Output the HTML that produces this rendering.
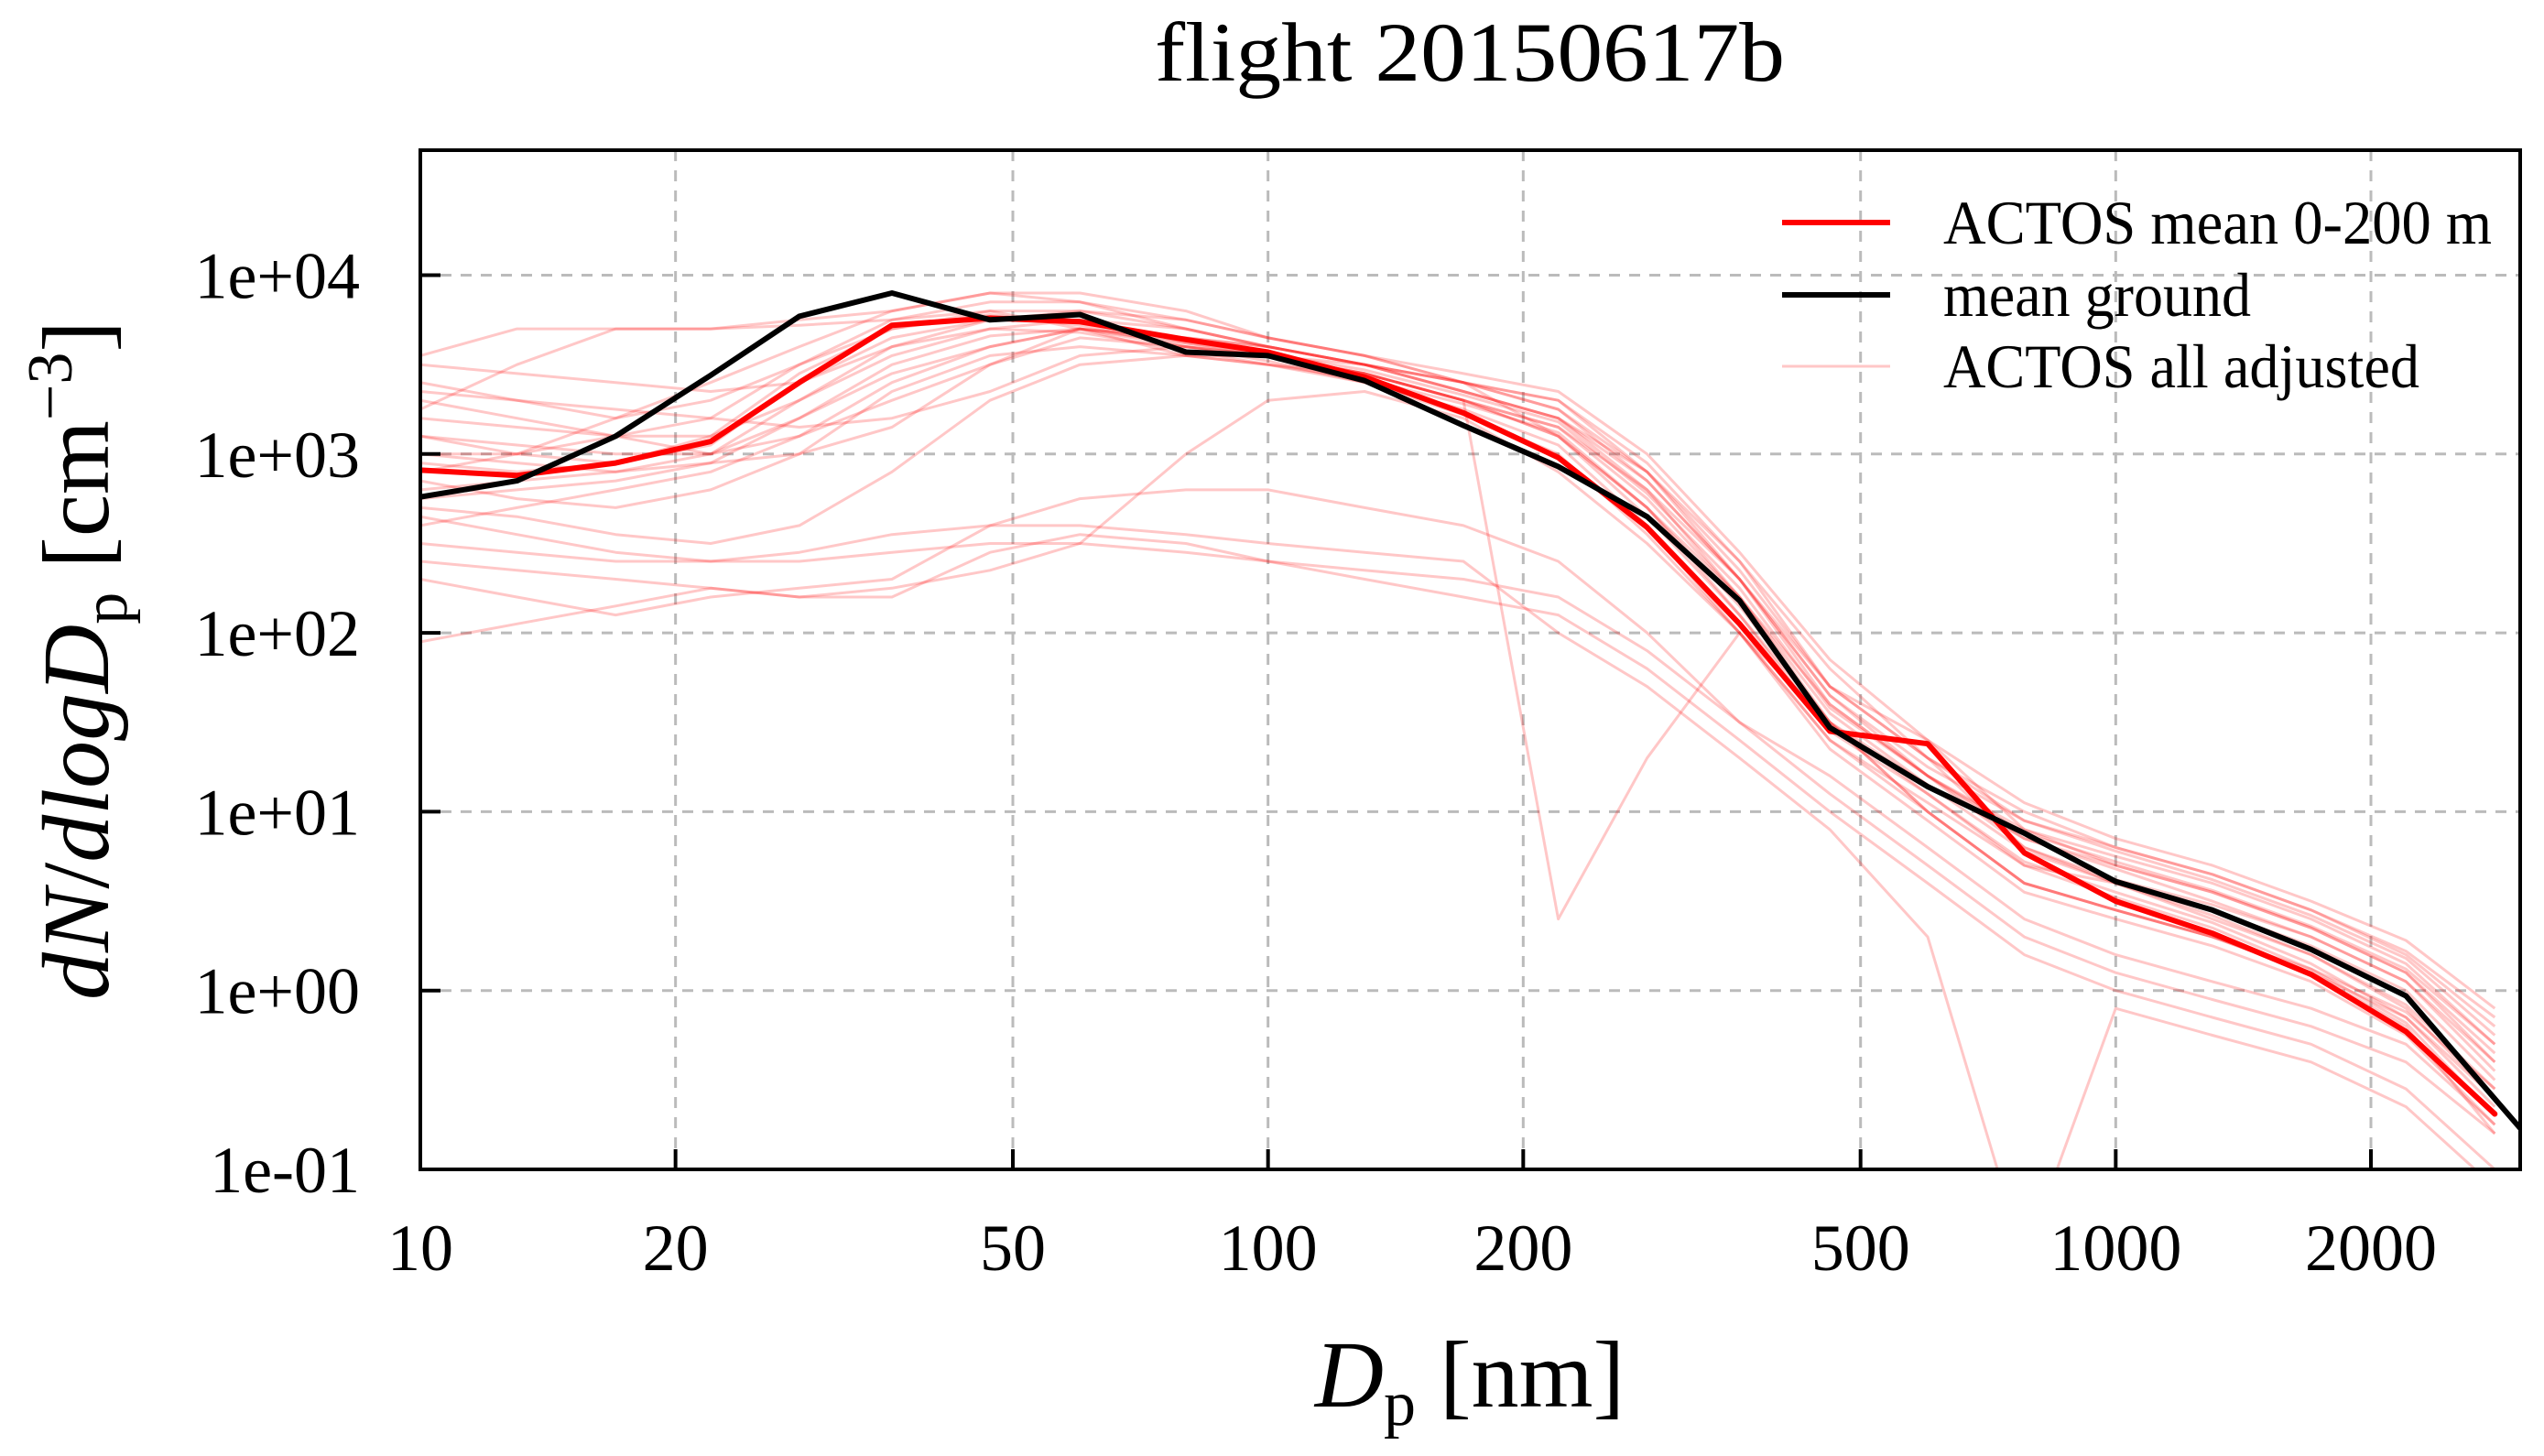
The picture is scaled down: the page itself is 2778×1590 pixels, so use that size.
<!DOCTYPE html>
<html><head><meta charset="utf-8"><style>
html,body{margin:0;padding:0;background:#fff;}
svg{display:block;font-family:"Liberation Serif",serif;}
</style></head><body>
<svg id="chart" width="2778" height="1590" viewBox="0 0 2778 1590" xmlns="http://www.w3.org/2000/svg">
<text x="1605" y="88" text-anchor="middle" font-size="92" textLength="688" lengthAdjust="spacingAndGlyphs">flight 20150617b</text>
<g id="grid"></g>
<g id="series"></g>
<rect x="459" y="164" width="2293" height="1113" fill="none" stroke="#000" stroke-width="4"/>
<g id="ticks"></g>
<text x="1605" y="1536" text-anchor="middle" font-size="104"><tspan font-style="italic">D</tspan><tspan font-size="70" dy="20">p</tspan><tspan dy="-20"> [nm]</tspan></text>
<text transform="translate(118,721) rotate(-90)" text-anchor="middle" font-size="104"><tspan font-style="italic">dN</tspan>/<tspan font-style="italic">dlogD</tspan><tspan font-size="70" dy="20">p</tspan><tspan dy="-20"> [cm</tspan><tspan font-size="70" dy="-40">−3</tspan><tspan dy="40">]</tspan></text>
<g>
<line x1="1946" y1="243" x2="2064" y2="243" stroke="#f00" stroke-width="6"/>
<text x="2122" y="266" font-size="68" textLength="599" lengthAdjust="spacingAndGlyphs">ACTOS mean 0-200 m</text>
<line x1="1946" y1="322" x2="2064" y2="322" stroke="#000" stroke-width="6"/>
<text x="2122" y="345" font-size="68" textLength="336" lengthAdjust="spacingAndGlyphs">mean ground</text>
<line x1="1946" y1="400" x2="2064" y2="400" stroke="rgba(255,0,0,0.22)" stroke-width="3"/>
<text x="2122" y="423" font-size="68" textLength="520" lengthAdjust="spacingAndGlyphs">ACTOS all adjusted</text>
</g>
</svg>
<script>
const diameters=[10,13,17,22,28,36,47,60,80,100,130,170,220,280,360,460,600,780,1000,1300,1700,2200,2800];
const meanActos=[2.91,2.88,2.95,3.07,3.40,3.72,3.76,3.74,3.64,3.57,3.43,3.23,2.98,2.59,2.05,1.45,1.38,0.77,0.5,0.32,0.09,-0.23,-0.69];
const meanGround=[2.76,2.85,3.10,3.44,3.77,3.90,3.75,3.78,3.57,3.55,3.41,3.16,2.93,2.65,2.18,1.47,1.14,0.88,0.61,0.45,0.23,-0.03,-0.45];
const meanGroundEnd=[3000,-0.77];
const allLines=[
[3.4,3.3,3.2,3.3,3.5,3.7,3.8,3.8,3.7,3.6,3.5,3.35,3.2,2.8,2.3,1.7,1.4,0.9,0.7,0.55,0.35,0.1,-0.4],
[3.0,3.0,3.1,3.2,3.5,3.75,3.85,3.85,3.7,3.6,3.5,3.4,3.3,2.9,2.3,1.6,1.2,0.9,0.75,0.6,0.4,0.15,-0.3],
[3.55,3.7,3.7,3.7,3.75,3.8,3.9,3.9,3.8,3.65,3.55,3.4,3.1,2.7,2.1,1.5,1.1,0.7,0.6,0.4,0.2,-0.1,-0.6],
[2.6,2.7,2.8,2.9,3.1,3.4,3.6,3.7,3.6,3.55,3.5,3.35,3.2,2.9,2.4,1.8,1.3,1.0,0.8,0.65,0.45,0.2,-0.2],
[3.2,3.15,3.1,3.0,3.2,3.45,3.6,3.7,3.65,3.6,3.5,3.4,3.3,2.95,2.4,1.7,1.3,0.8,0.6,0.45,0.25,0.0,-0.5],
[3.1,3.05,3.0,3.0,3.1,3.3,3.5,3.65,3.6,3.55,3.45,3.3,3.1,2.7,2.2,1.5,1.0,0.6,0.45,0.3,0.1,-0.2,-0.8],
[2.8,2.85,2.9,3.0,3.3,3.55,3.7,3.75,3.7,3.6,3.5,3.35,3.2,2.85,2.3,1.65,1.25,0.95,0.78,0.62,0.42,0.18,-0.25],
[3.25,3.5,3.7,3.7,3.72,3.75,3.8,3.7,3.55,3.5,3.45,3.3,3.15,2.75,2.2,1.6,1.2,0.8,0.62,0.48,0.3,0.05,-0.4],
[3.35,3.3,3.25,3.2,3.15,3.2,3.35,3.55,3.6,3.55,3.45,3.3,3.15,2.8,2.2,1.55,1.15,0.85,0.7,0.55,0.35,0.1,-0.35],
[3.0,2.95,2.9,2.95,3.0,3.15,3.5,3.7,3.65,3.6,3.5,3.4,3.25,2.9,2.35,1.7,1.3,0.95,0.8,0.65,0.45,0.22,-0.15],
[2.65,2.55,2.45,2.4,2.4,2.45,2.5,2.5,2.45,2.4,2.35,2.3,2.2,1.9,1.5,1.1,0.7,0.3,0.1,-0.05,-0.2,-0.4,-0.8],
[2.5,2.45,2.4,2.4,2.45,2.55,2.6,2.6,2.55,2.5,2.45,2.4,2.0,1.7,1.3,0.9,0.3,-1.5,-0.1,-0.25,-0.4,-0.65,-1.1],
[1.95,2.05,2.15,2.25,2.2,2.2,2.45,2.55,2.5,2.4,2.3,2.2,2.1,1.8,1.4,1.0,0.6,0.2,0.0,-0.15,-0.3,-0.55,-1.0],
[2.3,2.2,2.1,2.2,2.25,2.3,2.6,2.75,2.8,2.8,2.7,2.6,2.4,2.0,1.5,1.2,0.8,0.4,0.2,0.05,-0.1,-0.3,-0.75],
[2.4,2.35,2.3,2.25,2.2,2.25,2.35,2.5,3.0,3.3,3.35,3.2,2.9,2.5,2.0,1.4,1.0,0.6,0.45,0.3,0.1,-0.15,-0.6],
[2.7,2.65,2.55,2.5,2.6,2.9,3.3,3.5,3.55,3.55,3.45,3.3,0.4,1.3,2.0,1.5,1.0,0.6,0.45,0.3,0.12,-0.12,-0.55],
[3.5,3.45,3.4,3.35,3.4,3.6,3.75,3.8,3.75,3.65,3.55,3.45,3.35,3.0,2.45,1.85,1.4,1.05,0.85,0.7,0.5,0.28,-0.1],
[2.9,3.0,3.2,3.4,3.6,3.8,3.9,3.85,3.75,3.65,3.55,3.4,3.25,2.85,2.3,1.65,1.2,0.85,0.68,0.5,0.3,0.05,-0.45],
[3.1,3.0,2.95,3.05,3.4,3.65,3.75,3.75,3.62,3.55,3.45,3.3,3.1,2.65,2.1,1.45,1.1,0.72,0.55,0.38,0.15,-0.15,-0.65],
[2.95,2.9,2.95,3.1,3.45,3.7,3.78,3.72,3.6,3.52,3.4,3.25,3.05,2.6,2.0,1.4,1.05,0.7,0.52,0.35,0.12,-0.18,-0.7],
[3.3,3.2,3.1,3.1,3.3,3.6,3.7,3.68,3.58,3.5,3.42,3.28,3.12,2.7,2.15,1.5,1.15,0.78,0.6,0.42,0.2,-0.08,-0.55],
[2.75,2.8,2.85,2.95,3.2,3.5,3.66,3.7,3.62,3.56,3.47,3.33,3.18,2.78,2.25,1.58,1.2,0.88,0.72,0.56,0.36,0.12,-0.3],
[2.85,2.75,2.7,2.8,3.0,3.35,3.55,3.6,3.55,3.5,3.4,3.22,3.0,2.55,2.0,1.35,0.95,0.55,0.4,0.25,0.05,-0.25,-0.75]
];
const xTicks=[10,20,50,100,200,500,1000,2000];
const xTickLabels=["10","20","50","100","200","500","1000","2000"];
const yTicks=[-1,0,1,2,3,4];
const yTickLabels=["1e-01","1e+00","1e+01","1e+02","1e+03","1e+04"];

const NS="http://www.w3.org/2000/svg";
const L=459,R=2752,T=164,B=1277;
const xMin=1,xMax=Math.log10(3000),yMin=-1,yMax=Math.log10(50000);
function xs(d){return L+(Math.log10(d)-xMin)/(xMax-xMin)*(R-L);}
function ys(v){return B-(v-yMin)/(yMax-yMin)*(B-T);}
function mk(tag,attrs,parent){const e=document.createElementNS(NS,tag);for(const k in attrs)e.setAttribute(k,attrs[k]);parent.appendChild(e);return e;}

const svg=document.getElementById('chart');
const defs=mk('defs',{},svg);
const cp=mk('clipPath',{id:'plotclip'},defs);
mk('rect',{x:L,y:T,width:R-L,height:B-T},cp);

const grid=document.getElementById('grid');
xTicks.forEach((t,i)=>{if(i===0)return;
 const g=mk('line',{x1:xs(t),x2:xs(t),y1:T,y2:B,stroke:'#bbb','stroke-width':3,'stroke-dasharray':'12 10'},grid);
 
 });
yTicks.forEach((t,i)=>{if(i===0)return;
 const g=mk('line',{x1:L,x2:R,y1:ys(t),y2:ys(t),stroke:'#bbb','stroke-width':3,'stroke-dasharray':'12 10'},grid);
 
 });

const ser=document.getElementById('series');
ser.setAttribute('clip-path','url(#plotclip)');
function pathD(xsArr,vals){return vals.map((v,i)=>(i?'L':'M')+xs(xsArr[i]).toFixed(1)+','+ys(v).toFixed(1)).join('');}
allLines.forEach(vals=>{
 const p=mk('path',{d:pathD(diameters,vals),fill:'none',stroke:'rgba(255,0,0,0.22)','stroke-width':3,'stroke-linejoin':'round'},ser);
 
 
});
const pr=mk('path',{d:pathD(diameters,meanActos),fill:'none',stroke:'#f00','stroke-width':6,'stroke-linejoin':'round','stroke-linecap':'round'},ser);


const gx=diameters.slice(0,-1).concat([meanGroundEnd[0]]);
const gv=meanGround.slice(0,-1).concat([meanGroundEnd[1]]);
const pb=mk('path',{d:pathD(gx,gv),fill:'none',stroke:'#000','stroke-width':6,'stroke-linejoin':'round'},ser);



const ticks=document.getElementById('ticks');
xTicks.forEach((t,i)=>{
 const x=xs(t);
 const tk=mk('line',{x1:x,x2:x,y1:B,y2:B-22,stroke:'#000','stroke-width':4},ticks);
 
 
 const tx=mk('text',{x:x,y:1387,'text-anchor':'middle','font-size':72},ticks);
 tx.textContent=xTickLabels[i];
 
 
});
yTicks.forEach((t,i)=>{
 const y=ys(t);
 const tk=mk('line',{x1:L,x2:L+22,y1:y,y2:y,stroke:'#000','stroke-width':4},ticks);
 
 
 const tx=mk('text',{x:393,y:y+25,'text-anchor':'end','font-size':72},ticks);
 tx.textContent=yTickLabels[i];
 
 
});
</script>
</body></html>
